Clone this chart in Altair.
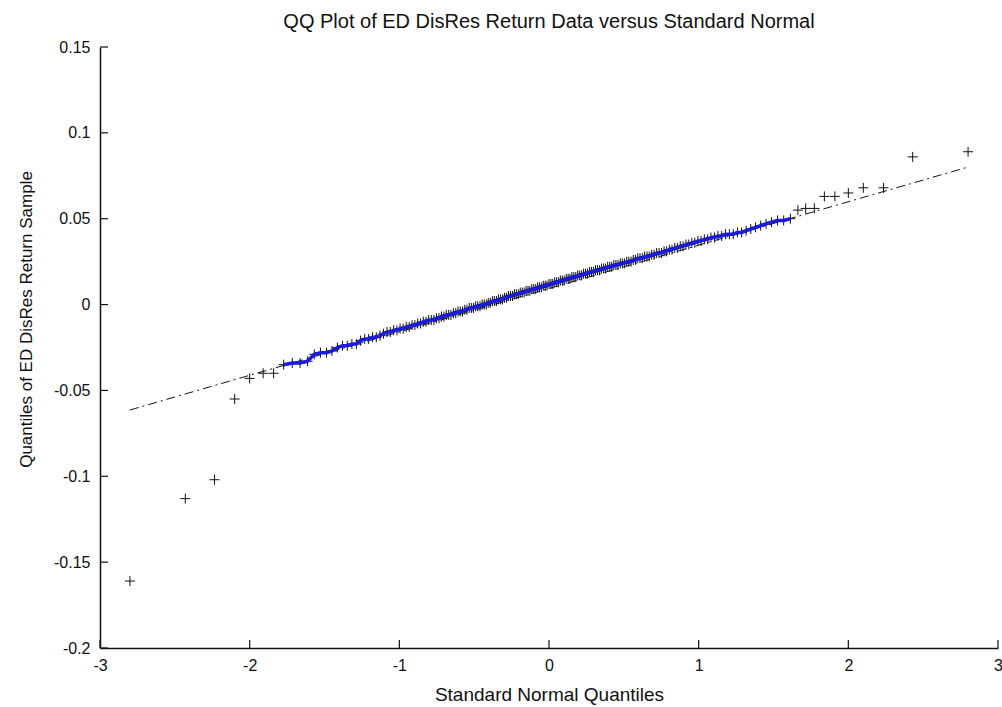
import altair as alt
import pandas as pd

# Theoretical standard-normal quantiles (n = 197 sorted observations)
normal_quantiles = [
    -2.80, -2.43, -2.235, -2.10, -2.00, -1.91, -1.84, -1.773, -1.715, -1.663,
    -1.613, -1.568, -1.527, -1.487, -1.450, -1.414, -1.380, -1.348, -1.317, -1.287,
    -1.259, -1.231, -1.205, -1.179, -1.154, -1.129, -1.106, -1.082, -1.060, -1.038,
    -1.016, -0.995, -0.974, -0.954, -0.934, -0.915, -0.896, -0.877, -0.858, -0.840,
    -0.822, -0.804, -0.786, -0.769, -0.752, -0.735, -0.719, -0.702, -0.686, -0.670,
    -0.655, -0.639, -0.623, -0.608, -0.593, -0.578, -0.563, -0.548, -0.533, -0.519,
    -0.504, -0.490, -0.476, -0.461, -0.447, -0.433, -0.419, -0.406, -0.392, -0.378,
    -0.365, -0.351, -0.338, -0.324, -0.311, -0.297, -0.284, -0.271, -0.257, -0.244,
    -0.231, -0.218, -0.205, -0.192, -0.179, -0.166, -0.153, -0.140, -0.128, -0.115,
    -0.102, -0.089, -0.076, -0.064, -0.051, -0.038, -0.025, -0.013,
    0.0,
    0.013, 0.025, 0.038, 0.051, 0.064, 0.076, 0.089, 0.102,
    0.115, 0.128, 0.140, 0.153, 0.166, 0.179, 0.192, 0.205, 0.218, 0.231,
    0.244, 0.257, 0.271, 0.284, 0.297, 0.311, 0.324, 0.338, 0.351, 0.365,
    0.378, 0.392, 0.406, 0.419, 0.433, 0.447, 0.461, 0.476, 0.490, 0.504,
    0.519, 0.533, 0.548, 0.563, 0.578, 0.593, 0.608, 0.623, 0.639, 0.655,
    0.670, 0.686, 0.702, 0.719, 0.735, 0.752, 0.769, 0.786, 0.804, 0.822,
    0.840, 0.858, 0.877, 0.896, 0.915, 0.934, 0.954, 0.974, 0.995, 1.016,
    1.038, 1.060, 1.082, 1.106, 1.129, 1.154, 1.179, 1.205, 1.231, 1.259,
    1.287, 1.317, 1.348, 1.380, 1.414, 1.450, 1.487, 1.527, 1.568, 1.613,
    1.663, 1.715, 1.773, 1.84, 1.91, 2.00, 2.10, 2.235, 2.43, 2.80,
]

# Sorted sample quantiles of the ED DisRes return data
sample_quantiles = [
    -0.161, -0.113, -0.102, -0.055, -0.043, -0.040, -0.040, -0.035, -0.034, -0.034,
    -0.033, -0.029, -0.028, -0.028, -0.027, -0.025, -0.024, -0.024, -0.023, -0.023,
    -0.021, -0.020, -0.020, -0.019, -0.019, -0.018, -0.017, -0.016, -0.016, -0.015,
    -0.015, -0.014, -0.014, -0.013, -0.013, -0.012, -0.012, -0.011, -0.011, -0.010,
    -0.010, -0.009, -0.009, -0.009, -0.008, -0.008, -0.007, -0.007, -0.006, -0.006,
    -0.006, -0.005, -0.005, -0.004, -0.004, -0.004, -0.003, -0.003, -0.002, -0.002,
    -0.002, -0.001, -0.001, -0.001, 0.000, 0.000, 0.000, 0.001, 0.001, 0.002,
    0.002, 0.002, 0.003, 0.003, 0.003, 0.004, 0.004, 0.005, 0.005, 0.005,
    0.006, 0.006, 0.006, 0.007, 0.007, 0.007, 0.008, 0.008, 0.008, 0.009,
    0.009, 0.009, 0.010, 0.010, 0.010, 0.011, 0.011, 0.011,
    0.012,
    0.012, 0.012, 0.013, 0.013, 0.013, 0.014, 0.014, 0.014,
    0.015, 0.015, 0.015, 0.016, 0.016, 0.016, 0.017, 0.017, 0.017, 0.018,
    0.018, 0.018, 0.019, 0.019, 0.019, 0.020, 0.020, 0.020, 0.021, 0.021,
    0.021, 0.022, 0.022, 0.022, 0.023, 0.023, 0.023, 0.024, 0.024, 0.024,
    0.025, 0.025, 0.025, 0.026, 0.026, 0.027, 0.027, 0.027, 0.028, 0.028,
    0.028, 0.029, 0.029, 0.030, 0.030, 0.030, 0.031, 0.031, 0.032, 0.032,
    0.033, 0.033, 0.034, 0.034, 0.035, 0.035, 0.036, 0.036, 0.037, 0.037,
    0.038, 0.038, 0.039, 0.039, 0.040, 0.040, 0.041, 0.041, 0.041, 0.042,
    0.042, 0.043, 0.044, 0.045, 0.046, 0.047, 0.048, 0.049, 0.049, 0.050,
    0.055, 0.056, 0.056, 0.063, 0.063, 0.065, 0.068, 0.068, 0.086, 0.089,
]

# Reference (fitted) line end points
ref_line_x = [-2.80, 2.80]
ref_line_y = [-0.0614, 0.0801]

x_ticks = [-3, -2, -1, 0, 1, 2, 3]
y_ticks = [-0.2, -0.15, -0.1, -0.05, 0, 0.05, 0.1, 0.15]

assert len(normal_quantiles) == len(sample_quantiles)

df = pd.DataFrame({"x": normal_quantiles, "y": sample_quantiles})
ref = pd.DataFrame({"x": ref_line_x, "y": ref_line_y})
core = df.iloc[7:187]
xt = pd.DataFrame({"x": x_ticks})
yt = pd.DataFrame({"y": y_ticks})

W, H = 898, 601
FONT = "Liberation Sans"
xs = alt.Scale(domain=[-3, 3], nice=False, zero=False)
ys = alt.Scale(domain=[-0.2, 0.15], nice=False, zero=False)

x_axis = alt.Axis(
    values=x_ticks, title="Standard Normal Quantiles",
    labelExpr="toString(datum.value)", labelFlush=False, labelOverlap=False,
    labelPadding=9, titlePadding=12, titleFontSize=19)
y_axis = alt.Axis(
    values=y_ticks, title="Quantiles of ED DisRes Return Sample",
    labelExpr="toString(datum.value)", labelOverlap=False,
    labelPadding=10, titlePadding=18, titleFontSize=17, titleY=272)

X = alt.X("x:Q", scale=xs, axis=x_axis, title="Standard Normal Quantiles")
Y = alt.Y("y:Q", scale=ys, axis=y_axis, title="Quantiles of ED DisRes Return Sample")

ref_layer = alt.Chart(ref).mark_line(
    color="#111111", strokeWidth=1, strokeDash=[9, 4, 2, 4]
).encode(x=X, y=Y)

points = alt.Chart(df).mark_point(
    shape="M-1,0L1,0M0,-1L0,1", size=100, filled=False,
    color="#111111", strokeWidth=1, opacity=1,
).encode(x=X, y=Y)

blue = alt.Chart(core).mark_line(color="#1a1ae0", strokeWidth=3.5).encode(x=X, y=Y)

xtick_layer = alt.Chart(xt).mark_rule(color="#111111", strokeWidth=1.2).encode(
    x=X, y=alt.value(H), y2=alt.value(H - 8),
)
ytick_layer = alt.Chart(yt).mark_rule(color="#111111", strokeWidth=1.2).encode(
    y=Y, x=alt.value(0), x2=alt.value(8),
)

chart = alt.layer(ref_layer, points, blue, xtick_layer, ytick_layer).properties(
    width=W, height=H,
    title=alt.TitleParams(
        "QQ Plot of ED DisRes Return Data versus Standard Normal",
        fontSize=20, font=FONT, fontWeight="normal", color="#111111",
        anchor="middle", offset=7),
    padding={"left": 100, "top": 47, "right": 4, "bottom": 59},
    autosize=alt.AutoSizeParams(type="none"),
    background="white",
).configure_view(stroke=None).configure_axis(
    domainColor="#111111", domainWidth=1.5, ticks=False, grid=False,
    labelFont=FONT, labelFontSize=16, labelColor="#111111",
    titleFont=FONT, titleFontWeight="normal", titleColor="#111111",
)

chart.save("out.html", embed_options={"renderer": "svg", "actions": False})
